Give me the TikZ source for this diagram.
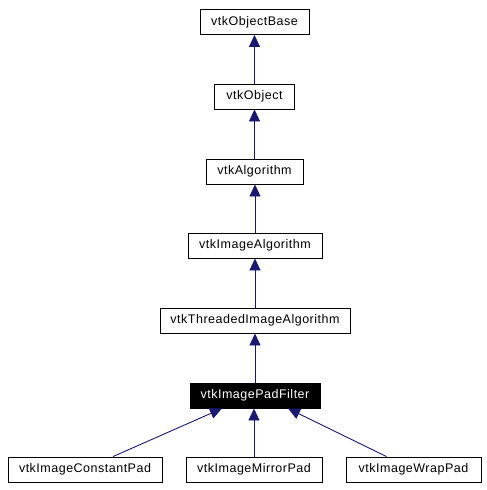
\documentclass[tikz,border=0pt]{standalone}
\usepackage{fontspec}
\setmainfont[LetterSpace=4]{Liberation Sans}
\usetikzlibrary{arrows.meta}
\definecolor{edgeblue}{RGB}{25,25,112}
\begin{document}
\begin{tikzpicture}[x=1pt,y=-1pt,
  cls/.style={draw=black,line width=0.9pt,fill=white,minimum height=25pt,inner sep=0pt,font=\fontsize{12.5}{13}\selectfont},
  cur/.style={cls,fill=black,text=white},
  inh/.style={draw=edgeblue,line width=0.9pt,-{Triangle[width=11pt,length=12pt]}}]
\useasboundingbox (0,0) rectangle (487,490);
\node[cls,minimum width=109pt] (base) at (254.5,22) {vtkObjectBase};
\node[cls,minimum width=80pt] (obj) at (254.5,96.5) {vtkObject};
\node[cls,minimum width=97pt] (alg) at (254.5,171.5) {vtkAlgorithm};
\node[cls,minimum width=134pt] (ialg) at (255,245.5) {vtkImageAlgorithm};
\node[cls,minimum width=190pt] (thr) at (255,320.5) {vtkThreadedImageAlgorithm};
\node[cur,minimum width=130pt] (pad) at (255,395.5) {vtkImagePadFilter};
\node[cls,minimum width=154pt] (con) at (85,469.5) {vtkImageConstantPad};
\node[cls,minimum width=136pt] (mir) at (254,469.5) {vtkImageMirrorPad};
\node[cls,minimum width=135pt] (wrap) at (413.5,469.5) {vtkImageWrapPad};
\draw[inh] (obj.north) -- (obj.north |- base.south);
\draw[inh] (alg.north) -- (alg.north |- obj.south);
\draw[inh] (ialg.north) -- (ialg.north |- alg.south);
\draw[inh] (thr.north) -- (thr.north |- ialg.south);
\draw[inh] (pad.north) -- (pad.north |- thr.south);
\draw[inh] ([xshift=28pt]con.north) -- ([xshift=-33pt]pad.south);
\draw[inh] (mir.north) -- (mir.north |- pad.south);
\draw[inh] ([xshift=-27pt]wrap.north) -- ([xshift=33pt]pad.south);
\end{tikzpicture}
\end{document}
